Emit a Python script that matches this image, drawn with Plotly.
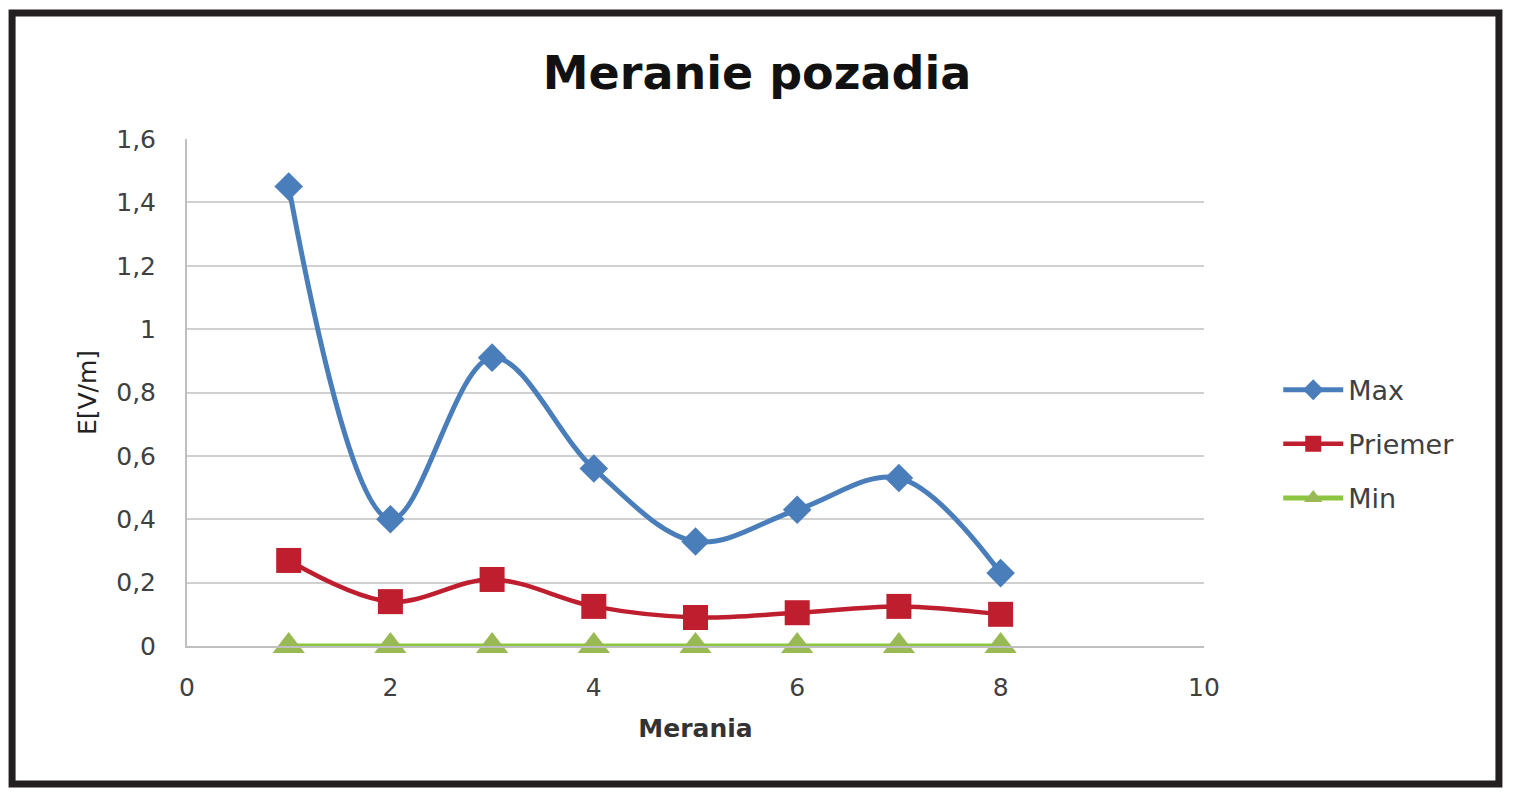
import plotly.graph_objects as go

merania = [1, 2, 3, 4, 5, 6, 7, 8]
max_vals = [1.45, 0.40, 0.91, 0.56, 0.33, 0.43, 0.53, 0.23]
priemer_vals = [0.27, 0.14, 0.21, 0.125, 0.09, 0.105, 0.125, 0.10]
min_vals = [0, 0, 0, 0, 0, 0, 0, 0]

font = 'DejaVu Sans'
fig = go.Figure()
fig.add_trace(go.Scatter(x=merania, y=max_vals, name='Max', mode='lines+markers',
                         line=dict(color='#4a7ebb', width=5, shape='spline', smoothing=1),
                         marker=dict(symbol='diamond', size=22, color='#4a7ebb'),
                         legendgroup='a', cliponaxis=False))
fig.add_trace(go.Scatter(x=merania, y=priemer_vals, name='Priemer', mode='lines+markers',
                         line=dict(color='#be1e2d', width=4.5, shape='spline', smoothing=1),
                         marker=dict(symbol='square', size=25, color='#be1e2d'),
                         legendgroup='b', cliponaxis=False))
fig.add_trace(go.Scatter(x=merania, y=min_vals, name='Min', mode='lines+markers',
                         line=dict(color='#8cc63f', width=5),
                         marker=dict(symbol='triangle-up', size=28, color='#98b954'),
                         legendgroup='c', cliponaxis=False))

# outer frame (the page has an 8px body margin)
fig.add_shape(type='rect', xref='paper', yref='paper',
              x0=-0.172, x1=1.290, y0=-0.272, y1=1.2485,
              line=dict(color='#231f20', width=7))

fig.update_layout(
    width=1507, height=792,
    margin=dict(l=179, r=311, t=131, b=154),
    paper_bgcolor='white', plot_bgcolor='white',
    separators=', ',
    font=dict(family=font, size=25, color='#404040'),
    title=dict(text='<b>Meranie pozadia</b>', x=0.497, xref='container', xanchor='center',
               y=0.918, yref='container', yanchor='middle',
               font=dict(size=46, color='#111111', family=font)),
    showlegend=True,
    legend=dict(x=1.073, y=0.398, xanchor='left', yanchor='middle',
                font=dict(size=27, color='#404040'), tracegroupgap=16,
                itemwidth=60),
    xaxis=dict(range=[0, 10], dtick=2, showgrid=False, zeroline=False,
               showline=True, linecolor='#bfbfbf', linewidth=2, ticks='',
               ticklabelstandoff=18,
               tickfont=dict(size=25, color='#404040'),
               title=dict(text='<b>Merania</b>', font=dict(size=25, color='#333333'), standoff=18)),
    yaxis=dict(range=[0, 1.6], dtick=0.2, showgrid=True, gridcolor='#d0d0d0', gridwidth=2,
               zeroline=False, showline=True, linecolor='#bfbfbf', linewidth=2, ticks='',
               ticklabelstandoff=24,
               tickfont=dict(size=25, color='#404040'),
               title=dict(text='E[V/m]', font=dict(size=25, color='#222222'), standoff=12)),
)
fig.write_html('out.html')
